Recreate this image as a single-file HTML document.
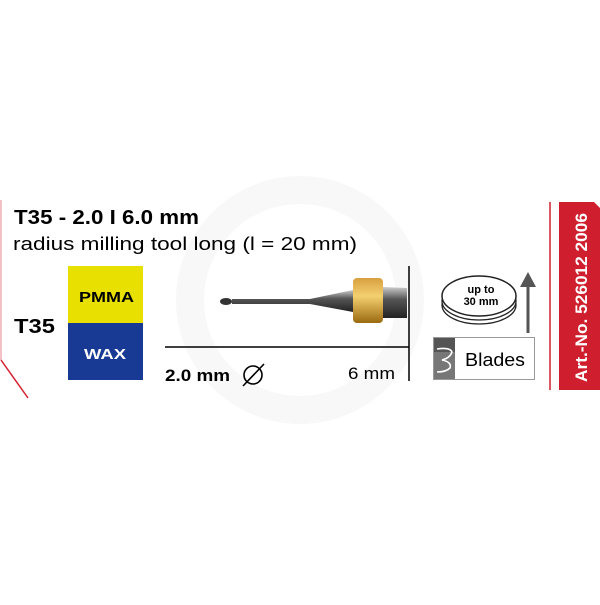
<!DOCTYPE html>
<html><head><style>
body{margin:0;width:600px;height:600px;background:#fff;overflow:hidden;font-family:"Liberation Sans",Arial,sans-serif;}
</style></head><body>
<svg width="600" height="600" viewBox="0 0 600 600" xmlns="http://www.w3.org/2000/svg" font-family="Liberation Sans, Arial, sans-serif">
<circle cx="300" cy="300" r="110" fill="none" stroke="#f8f8f8" stroke-width="28"/>
<polyline points="1,200 1,360" fill="none" stroke="#eaa0a8" stroke-width="1.3"/>
<line x1="1" y1="360" x2="28" y2="398" stroke="#d42030" stroke-width="1.5"/>
<text x="14" y="224" font-size="20" font-weight="bold" textLength="185" lengthAdjust="spacingAndGlyphs">T35 - 2.0 I 6.0 mm</text>
<text x="13" y="250" font-size="18.5" textLength="344" lengthAdjust="spacingAndGlyphs">radius milling tool long (l = 20 mm)</text>
<rect x="68" y="266" width="75" height="58" fill="#e8e000"/>
<rect x="68" y="323" width="75" height="57" fill="#183a94"/>
<text x="79" y="302" font-size="15" font-weight="bold" textLength="55" lengthAdjust="spacingAndGlyphs">PMMA</text>
<text x="84" y="359" font-size="15" font-weight="bold" fill="#fff" textLength="42" lengthAdjust="spacingAndGlyphs">WAX</text>
<text x="14" y="333" font-size="20" font-weight="bold" textLength="41" lengthAdjust="spacingAndGlyphs">T35</text>
<defs>
<linearGradient id="g" x1="0" y1="0" x2="0" y2="1"><stop offset="0" stop-color="#ccc"/><stop offset=".4" stop-color="#555"/><stop offset="1" stop-color="#222"/></linearGradient>
<linearGradient id="gold" x1="0" y1="0" x2="0" y2="1"><stop offset="0" stop-color="#d8a040"/><stop offset=".4" stop-color="#f4d070"/><stop offset="1" stop-color="#9a6a10"/></linearGradient>
</defs>
<polygon points="383,287 407,288 407,318 383,318" fill="url(#g)"/>
<rect x="353" y="278" width="30" height="45" rx="4" fill="url(#gold)"/>
<polygon points="232,299 310,299 353,290 353,312 310,304 232,304" fill="url(#g)"/>
<ellipse cx="226" cy="301.5" rx="6" ry="3.5" fill="#333"/>
<line x1="165" y1="347" x2="409" y2="347" stroke="#000" stroke-width="1.5"/>
<line x1="409" y1="266" x2="409" y2="381" stroke="#000" stroke-width="1.5"/>
<text x="165" y="381" font-size="17" font-weight="bold" textLength="65" lengthAdjust="spacingAndGlyphs">2.0 mm</text>
<circle cx="253" cy="375" r="9" fill="none" stroke="#000" stroke-width="1.6"/>
<line x1="243" y1="386" x2="264" y2="364" stroke="#000" stroke-width="1.6"/>
<text x="348" y="379" font-size="17" textLength="47" lengthAdjust="spacingAndGlyphs">6 mm</text>
<ellipse cx="479" cy="305" rx="37" ry="19" fill="#fff" stroke="#222" stroke-width="1.3"/>
<ellipse cx="479" cy="301" rx="37" ry="19" fill="#fff" stroke="#222" stroke-width="1.3"/>
<ellipse cx="479" cy="296" rx="37" ry="20" fill="#fff" stroke="#222" stroke-width="1.5"/>
<text x="481" y="293" font-size="11" font-weight="bold" text-anchor="middle">up to</text>
<text x="481" y="305" font-size="11" font-weight="bold" text-anchor="middle">30 mm</text>
<line x1="528" y1="333" x2="528" y2="285" stroke="#555" stroke-width="3"/>
<polygon points="520,287 536,287 528,272" fill="#555"/>
<rect x="433.5" y="337.5" width="101" height="42" fill="#fff" stroke="#999"/>
<rect x="434" y="338" width="21" height="41" fill="#555"/>
<rect x="434" y="352" width="21" height="27" fill="#777"/>
<path d="M437,349 Q450,347 452,352 Q450,358 442,360 Q452,362 450,368 Q446,372 437,372" fill="none" stroke="#fff" stroke-width="1.6"/>
<text x="465" y="366" font-size="18" textLength="60" lengthAdjust="spacingAndGlyphs">Blades</text>
<line x1="550" y1="202" x2="550" y2="390" stroke="#d42030" stroke-width="1.5"/>
<polygon points="559,202 594,202 600,208 600,390 559,390" fill="#cf1f2e"/>
<text transform="translate(587,382) rotate(-90)" font-size="17" font-weight="bold" fill="#fff" textLength="169" lengthAdjust="spacingAndGlyphs">Art.-No. 526012 2006</text>
</svg>
</body></html>
